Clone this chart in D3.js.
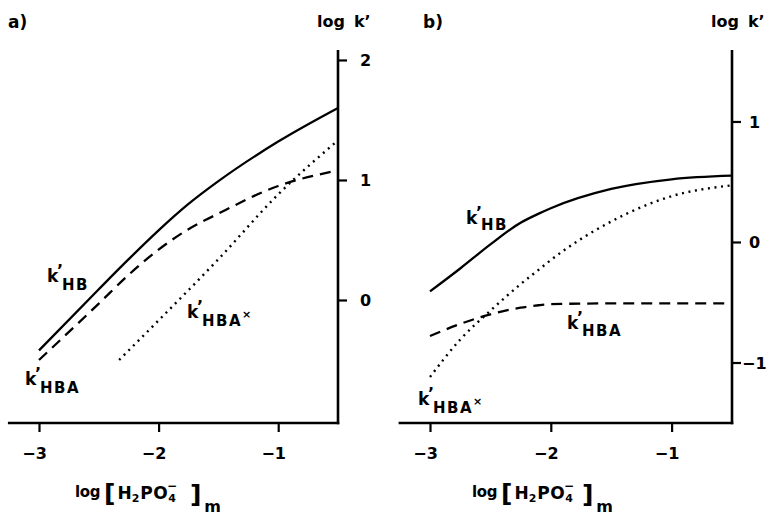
<!DOCTYPE html>
<html>
<head>
<meta charset="utf-8">
<script src="https://cdn.jsdelivr.net/npm/d3@7"></script>
<style>
  html, body { margin: 0; padding: 0; background: #fff; }
  svg { display: block; }
  text { font-family: "DejaVu Sans", "Liberation Sans", Arial, sans-serif; fill: #000; font-weight: bold; }
</style>
</head>
<body>
<svg id="chart" width="777" height="519"></svg>
<script>
// ---------- data ----------
const xTicks = [-3, -2, -1];
const yTicksA = [0, 1, 2];
const yTicksB = [-1, 0, 1];

// panel a
const xA = [-3, -2.5, -2.25, -2, -1.75, -1.5, -1, -0.5];
const hbA = [-0.42, 0.09, 0.34, 0.58, 0.8, 0.99, 1.32, 1.6];
const hbaA = [-0.5, -0.03, 0.21, 0.42, 0.59, 0.72, 0.95, 1.08];
const xHbaxA = [-2.33, -2, -1.5, -1, -0.5];
const hbaxA = [-0.5, -0.17, 0.34, 0.88, 1.33];

// panel b
const xB = [-3, -2.75, -2.5, -2.25, -2.1, -2, -1.5, -1, -0.5];
const hbB = [-0.41, -0.22, -0.02, 0.16, 0.235, 0.28, 0.44, 0.52, 0.55];
const hbaB = [-0.78, -0.68, -0.6, -0.545, -0.525, -0.515, -0.51, -0.51, -0.51];
const hbaxB = [-1.12, -0.81, -0.57, -0.35, -0.23, -0.15, 0.17, 0.38, 0.47];

const panelLabels = ["a)", "b)"];

// ---------- drawing ----------
const svg = d3.select("#chart");
svg.append("rect").attr("width", 777).attr("height", 519).attr("fill", "#fff");

const FS = 16;

function zip(xs, ys) { return xs.map((x, i) => [x, ys[i]]); }

function drawPanel(cfg) {
  const g = svg.append("g");
  const x = d3.scaleLinear().domain([-3, -0.5]).range(cfg.xRange);
  const y = d3.scaleLinear().domain(cfg.yDomain).range([423, 50]);
  const xLeft = x(-3.26);
  const xRight = x(-0.5);

  // x axis
  const xAxis = d3.axisBottom(x).tickValues(xTicks).tickSize(9).tickSizeOuter(0)
    .tickFormat(d => "\u2212" + Math.abs(d));
  const gx = g.append("g").attr("transform", `translate(0,${y.range()[0]})`).call(xAxis);
  gx.select(".domain").remove();
  gx.selectAll(".tick line").attr("stroke", "#000").attr("stroke-width", 2.2);
  gx.selectAll(".tick text").attr("font-size", FS).attr("font-family", null)
    .attr("dy", 0).attr("y", 36).attr("dx", -5).attr("fill", "#000");

  // y axis (right)
  const yAxis = d3.axisRight(y).tickValues(cfg.yTicks).tickSize(9).tickSizeOuter(0)
    .tickFormat(d => (d < 0 ? "\u2212" : "") + Math.abs(d));
  const gy = g.append("g").attr("transform", `translate(${xRight},0)`).call(yAxis);
  gy.select(".domain").remove();
  gy.selectAll(".tick line").attr("stroke", "#000").attr("stroke-width", 2.2);
  gy.selectAll(".tick text").attr("font-size", FS).attr("font-family", null)
    .attr("x", d => d < 0 ? cfg.yLabOff - 7 : cfg.yLabOff)
    .attr("text-anchor", "start").attr("dy", "0.36em").attr("fill", "#000");

  // axis lines
  g.append("line").attr("x1", xLeft).attr("x2", xRight + 1.3)
    .attr("y1", y.range()[0]).attr("y2", y.range()[0])
    .attr("stroke", "#000").attr("stroke-width", 2.4);
  g.append("line").attr("x1", xRight).attr("x2", xRight)
    .attr("y1", y.range()[1]).attr("y2", y.range()[0] + 1.2)
    .attr("stroke", "#000").attr("stroke-width", 2.6);

  // curves
  const line = d3.line().x(d => x(d[0])).y(d => y(d[1])).curve(d3.curveMonotoneX);
  g.append("path").datum(zip(cfg.xs, cfg.hb)).attr("d", line)
    .attr("fill", "none").attr("stroke", "#000").attr("stroke-width", 2.3);
  g.append("path").datum(zip(cfg.xs, cfg.hba)).attr("d", line)
    .attr("fill", "none").attr("stroke", "#000").attr("stroke-width", 2.3)
    .attr("stroke-dasharray", "11,7");
  g.append("path").datum(zip(cfg.xsx, cfg.hbax)).attr("d", line)
    .attr("fill", "none").attr("stroke", "#000").attr("stroke-width", 2.4)
    .attr("stroke-dasharray", "2,4.6");

  // panel label and y title
  g.append("text").attr("x", cfg.labelX).attr("y", 28).attr("font-size", 17)
    .text(cfg.label);
  const yt = g.append("text").attr("x", xRight - 21).attr("y", 27).attr("font-size", FS);
  yt.append("tspan").text("log");
  yt.append("tspan").attr("dx", 9).text("k\u2019");

  // curve labels
  cfg.curveLabels.forEach(l => kLabel(g, l.x, l.y, l.sub, l.star, l.sd));

  // x label
  xLabel(g, cfg.xLabelX, 497, cfg.brGap);
}

function kLabel(g, x0, y0, sub, star, sd) {
  const s = sd === undefined ? 8 : sd;
  g.append("text").attr("x", x0).attr("y", y0).attr("font-size", 17).text("k");
  g.append("text").attr("x", x0 + 10).attr("y", y0 - 6).attr("font-size", 16).text("\u2019");
  const t = g.append("text").attr("x", x0 + 15).attr("y", y0 + s).attr("font-size", 15)
    .attr("letter-spacing", 1.5).text(sub);
  if (star) {
    const w = t.node().getComputedTextLength();
    g.append("text").attr("x", x0 + 15 + w).attr("y", y0 + s - 8).attr("font-size", 11).text("\u00d7");
  }
}

function xLabel(g, x0, y0, brGap) {
  let cx = x0;
  function piece(txt, size, weight, dy, gapAfter, ls) {
    const t = g.append("text").attr("x", cx).attr("y", y0 + dy)
      .attr("font-size", size).attr("font-weight", weight).text(txt);
    if (ls !== undefined) t.attr("letter-spacing", ls);
    const w = t.node().getComputedTextLength();
    const res = { x: cx, w: w };
    cx += w + (gapAfter || 0);
    return res;
  }
  piece("log", 15, "bold", 0, 4, -0.4);
  piece("[", 25, "normal", 5, 2);
  piece("H", 17, "bold", 2, 0);
  piece("2", 11, "bold", 5, 1);
  piece("PO", 17, "bold", 2, 0, 0.5);
  const four = piece("4", 11, "bold", 5, brGap);
  g.append("text").attr("x", four.x + four.w / 2).attr("y", y0 - 7)
    .attr("text-anchor", "middle").attr("font-size", 12).text("\u2212");
  piece("]", 25, "normal", 6, 3);
  piece("m", 16, "bold", 15, 0);
}

drawPanel({
  xRange: [39, 338],
  yDomain: [-1.025, 2.083],
  yTicks: yTicksA,
  yLabOff: 22,
  xs: xA, hb: hbA, hba: hbaA, xsx: xHbaxA, hbax: hbaxA,
  label: panelLabels[0], labelX: 8,
  xLabelX: 75, brGap: 14,
  curveLabels: [
    { x: 47, y: 282, sub: "HB" },
    { x: 25, y: 385, sub: "HBA" },
    { x: 187, y: 318, sub: "HBA", star: true }
  ]
});

drawPanel({
  xRange: [430, 732],
  yDomain: [-1.502, 1.593],
  yTicks: yTicksB,
  yLabOff: 17,
  xs: xB, hb: hbB, hba: hbaB, xsx: xB, hbax: hbaxB,
  label: panelLabels[1], labelX: 423,
  xLabelX: 472, brGap: 9,
  curveLabels: [
    { x: 466, y: 224, sub: "HB", sd: 6 },
    { x: 567, y: 329, sub: "HBA", sd: 7 },
    { x: 418, y: 405, sub: "HBA", star: true, sd: 8 }
  ]
});
</script>
</body>
</html>
